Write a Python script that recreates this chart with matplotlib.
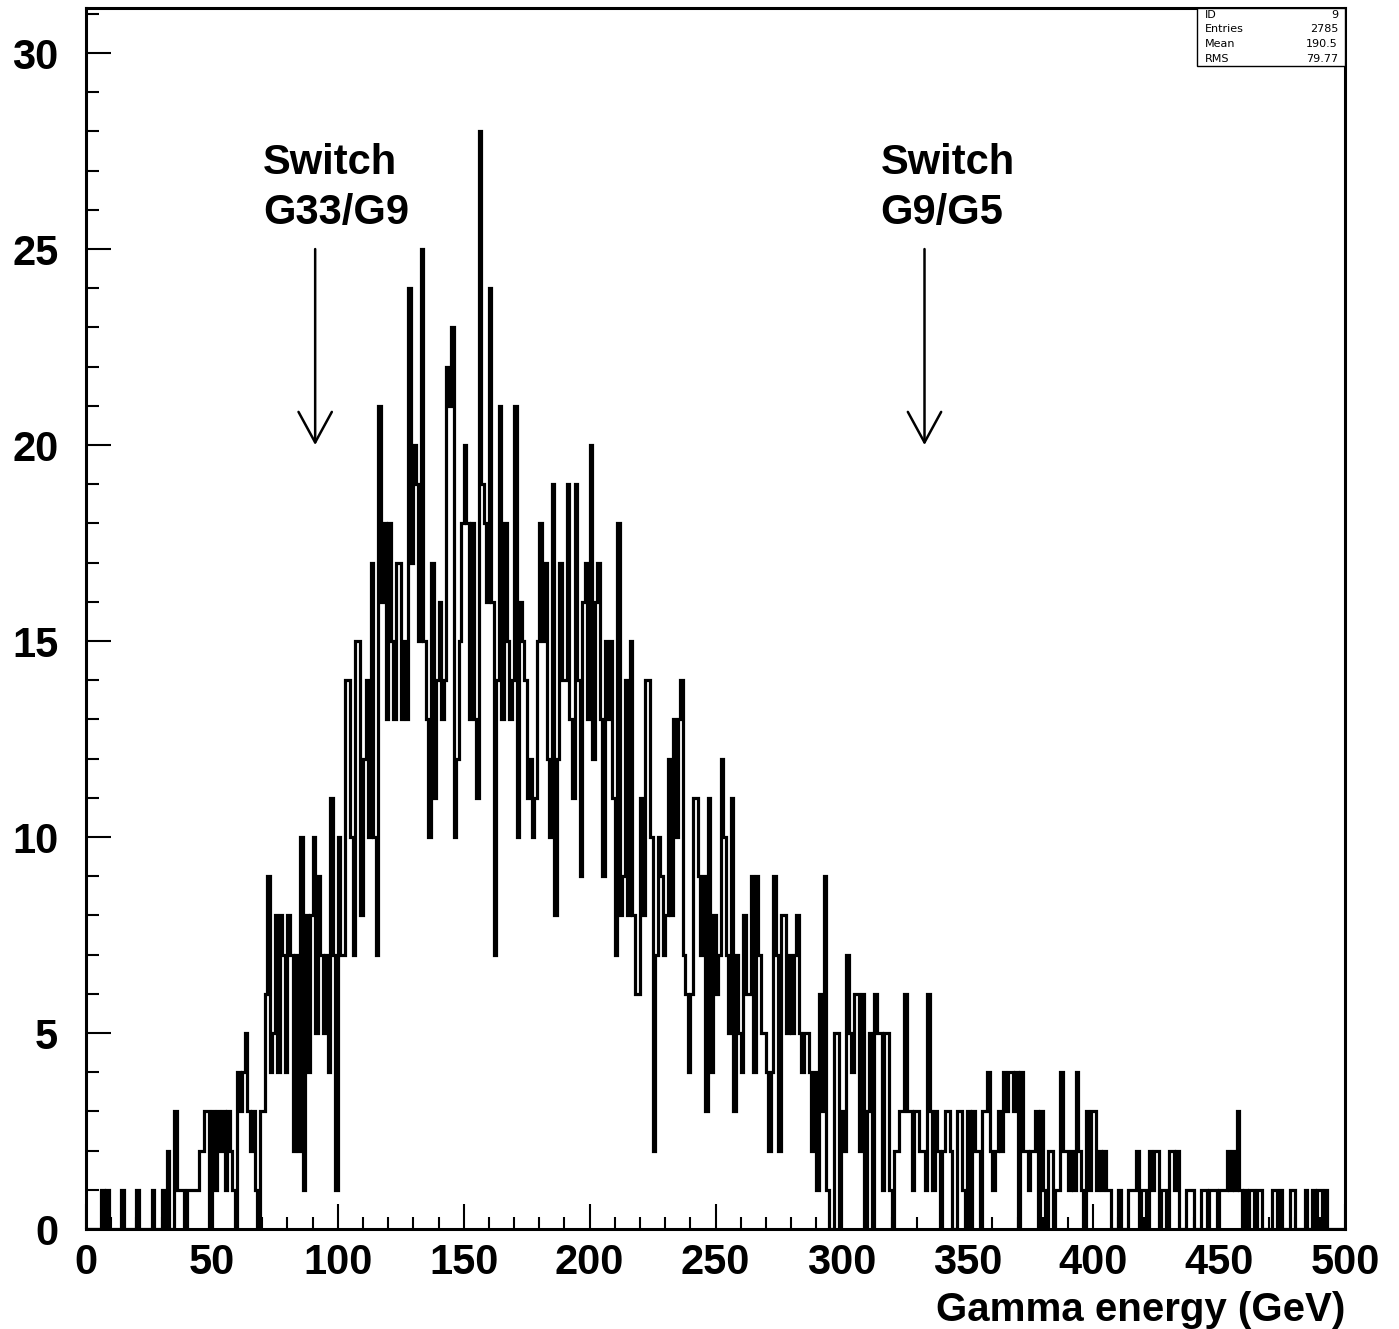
import matplotlib
matplotlib.use("Agg")
import matplotlib.pyplot as plt
from matplotlib.ticker import MultipleLocator
from matplotlib.patches import Rectangle
import numpy as np

plt.rcParams.update({'font.family': 'Liberation Sans', 'font.weight': 'bold'})

# histogram binning: 500 bins of 1 GeV
x_lo, x_hi, n_bins = 0, 500, 500

# counts per bin, 10 bins per row
counts = [
    0, 0, 0, 0, 0, 0, 1, 0, 1, 0,
    0, 0, 0, 0, 1, 0, 0, 0, 0, 0,
    1, 0, 0, 0, 0, 0, 1, 0, 0, 0,
    1, 0, 2, 0, 0, 3, 1, 1, 1, 0,
    1, 1, 1, 1, 1, 2, 2, 3, 3, 0,
    3, 1, 3, 2, 3, 1, 3, 2, 1, 0,
    4, 3, 4, 5, 3, 2, 3, 1, 0, 3,
    3, 6, 9, 4, 5, 8, 4, 8, 7, 4,
    8, 7, 2, 7, 2, 10, 1, 8, 4, 8,
    10, 5, 9, 7, 5, 7, 4, 11, 7, 1,
    10, 7, 7, 14, 14, 10, 7, 15, 15, 8,
    12, 14, 10, 17, 10, 7, 21, 16, 18, 13,
    18, 15, 13, 17, 17, 13, 15, 13, 24, 17,
    20, 19, 15, 25, 15, 13, 10, 17, 11, 14,
    16, 13, 14, 22, 21, 23, 10, 12, 15, 18,
    20, 18, 13, 18, 13, 11, 28, 19, 18, 16,
    24, 16, 7, 14, 21, 13, 18, 15, 13, 14,
    21, 10, 16, 15, 14, 11, 12, 10, 11, 15,
    18, 15, 17, 12, 10, 19, 8, 12, 17, 14,
    14, 19, 13, 11, 19, 14, 9, 16, 17, 13,
    20, 12, 16, 17, 13, 9, 15, 13, 15, 11,
    7, 18, 8, 9, 14, 8, 15, 8, 6, 6,
    11, 8, 14, 14, 10, 2, 7, 10, 9, 7,
    8, 12, 8, 13, 10, 13, 14, 7, 6, 4,
    6, 11, 11, 9, 7, 9, 3, 11, 4, 8,
    6, 7, 12, 10, 7, 5, 11, 3, 7, 5,
    4, 8, 6, 6, 9, 4, 9, 7, 5, 5,
    4, 2, 4, 9, 7, 2, 8, 8, 5, 7,
    5, 7, 8, 5, 4, 5, 5, 4, 2, 4,
    1, 6, 3, 9, 1, 0, 0, 5, 5, 0,
    3, 2, 7, 5, 4, 6, 6, 2, 6, 0,
    3, 5, 0, 6, 5, 5, 1, 5, 5, 1,
    0, 2, 2, 3, 3, 6, 3, 3, 1, 3,
    3, 2, 2, 1, 6, 3, 1, 3, 2, 0,
    2, 3, 3, 2, 0, 0, 3, 3, 1, 0,
    3, 0, 3, 2, 2, 0, 3, 3, 4, 2,
    1, 2, 3, 2, 4, 3, 4, 4, 3, 4,
    0, 4, 2, 2, 1, 2, 2, 3, 0, 3,
    1, 0, 2, 2, 0, 1, 1, 4, 2, 2,
    1, 2, 1, 4, 2, 1, 0, 3, 1, 3,
    3, 1, 2, 1, 2, 1, 1, 0, 0, 0,
    1, 0, 0, 0, 1, 1, 1, 2, 0, 1,
    1, 0, 2, 1, 2, 2, 0, 1, 1, 0,
    2, 2, 1, 2, 0, 0, 0, 1, 1, 1,
    0, 0, 0, 1, 1, 0, 1, 1, 1, 0,
    1, 1, 1, 2, 1, 2, 1, 3, 1, 0,
    1, 0, 1, 1, 0, 1, 1, 0, 0, 0,
    0, 1, 1, 0, 1, 0, 0, 0, 1, 1,
    0, 0, 0, 0, 1, 0, 0, 1, 0, 1,
    1, 0, 1, 0, 0, 0, 0, 0, 0, 0,
]

# switch markers (energy, arrow top, arrow tip, label)
switch_x = [91, 333]
switch_labels = ["Switch\nG33/G9", "Switch\nG9/G5"]
label_x = [70.3, 315.5]
arrow_top, arrow_tip = 25.0, 20.0

stats_names = ["ID", "Entries", "Mean", "RMS"]
stats_values = ["9", "2785", "190.5", "79.77"]

edges = np.linspace(x_lo, x_hi, n_bins + 1)

fig = plt.figure(figsize=(13.99, 13.29), dpi=100)
ax = fig.add_axes([0.0615, 0.0752, 0.8999, 0.9188])

ax.stairs(counts, edges, color='black', lw=2.3, baseline=0)

ax.set_xlim(0, 500)
ax.set_ylim(0, 31.15)
ax.xaxis.set_major_locator(MultipleLocator(50))
ax.xaxis.set_minor_locator(MultipleLocator(10))
ax.yaxis.set_major_locator(MultipleLocator(5))
ax.yaxis.set_minor_locator(MultipleLocator(1))
ax.tick_params(which='both', direction='in', width=1.5, labelsize=30)
ax.tick_params(axis='y', which='major', length=18, pad=20)
ax.tick_params(axis='y', which='minor', length=9)
ax.tick_params(axis='x', which='major', length=18, pad=10)
ax.tick_params(axis='x', which='minor', length=9)
for s in ax.spines.values():
    s.set_linewidth(2.2)

ax.set_xlabel("Gamma energy (GeV)", fontsize=29, fontweight='bold', loc='right', labelpad=6)

# switch annotations
for xs, xl, lab in zip(switch_x, label_x, switch_labels):
    ax.text(xl, 27.7, lab, fontsize=30, fontweight='bold', ha='left', va='top',
            linespacing=1.3)
    ax.annotate('', xy=(xs, arrow_tip), xytext=(xs, arrow_top),
                arrowprops=dict(arrowstyle='->,head_length=1.1,head_width=0.6',
                                lw=1.8, color='black', mutation_scale=20,
                                shrinkA=0, shrinkB=0))

# stats box
bx0, by0 = 0.8824, 0.9525
ax.add_patch(Rectangle((bx0, by0), 1 - bx0, 1 - by0, transform=ax.transAxes,
                       facecolor='white', edgecolor='black', lw=1.0, zorder=5))
rows_y = [0.9945, 0.9825, 0.9705, 0.9585]
for name, val, yy in zip(stats_names, stats_values, rows_y):
    ax.text(bx0 + 0.006, yy, name, transform=ax.transAxes, fontsize=8,
            fontweight='normal', family='DejaVu Sans', ha='left', va='center', zorder=6)
    ax.text(0.9945, yy, val, transform=ax.transAxes, fontsize=8,
            fontweight='normal', family='DejaVu Sans', ha='right', va='center', zorder=6)

fig.savefig("out.png", dpi=100)
